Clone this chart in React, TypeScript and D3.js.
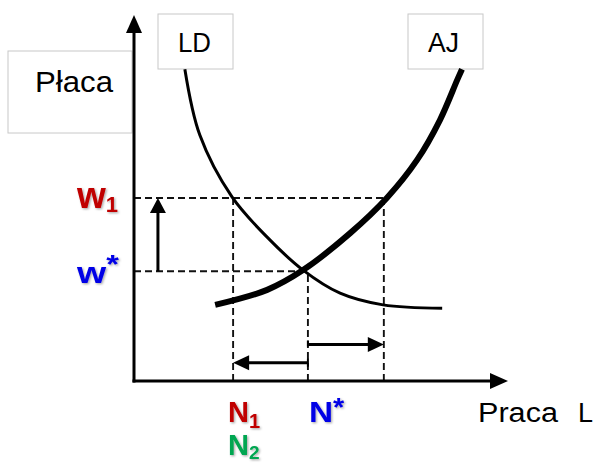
import React from "react";
import * as d3 from "d3";

// Labour demand curve (LD): [labour, wage]
const ldCurve: [number, number][] = [
  [1.36, 8.52], [1.76, 6.72], [2.62, 5.03], [3.56, 3.93], [4.52, 3.03],
  [5.51, 2.4], [6.66, 2.08], [8.24, 1.99],
];
// Labour supply curve (AJ)
const ajCurve: [number, number][] = [
  [2.17, 2.08], [3.56, 2.49], [4.52, 3.03], [5.78, 4.04], [6.76, 5.0],
  [7.57, 6.04], [8.18, 7.13], [8.64, 8.22], [8.77, 8.52],
];
const wageLevels = { w1: 5.0, wStar: 3.0 };
const labourLevels = { n1: 2.65, nStar: 4.65, n2: 6.68 };
const shiftArrows = { upX: 0.64, rightY: 1.0, leftY: 0.5 };
const axisMax = [10, 10];

export default function App() {
  const W = 599, H = 463;
  const x = d3.scaleLinear().domain([0, axisMax[0]]).range([134, 508]);
  const y = d3.scaleLinear().domain([0, axisMax[1]]).range([381, 15]);
  const line = d3.line<[number, number]>().x(d => x(d[0])).y(d => y(d[1])).curve(d3.curveCatmullRom.alpha(0.5));

  const dash = { stroke: "#111", strokeWidth: 1.9, strokeDasharray: "7,4", fill: "none" };
  const x0 = x(0), y0 = y(0);
  const head = (tx: number, ty: number, dir: "up" | "right" | "left", len: number, hw: number) => {
    if (dir === "up") return `M${tx},${ty}L${tx - hw},${ty + len}L${tx + hw},${ty + len}Z`;
    if (dir === "right") return `M${tx},${ty}L${tx - len},${ty - hw}L${tx - len},${ty + hw}Z`;
    return `M${tx},${ty}L${tx + len},${ty - hw}L${tx + len},${ty + hw}Z`;
  };
  const font = "'Liberation Sans', Arial, sans-serif";
  const red = "#c00000", blue = "#0000e6", green = "#00a651";
  const boxStroke = "#c8c8c8";

  const { w1, wStar } = wageLevels;
  const { n1, nStar, n2 } = labourLevels;

  return (
    <svg width={W} height={H} style={{ position: "absolute", left: 0, top: 0, background: "#fff" }}>
      <defs>
        <filter id="sh" x="-20%" y="-20%" width="140%" height="140%">
          <feDropShadow dx="1.2" dy="1.2" stdDeviation="0.8" floodColor="#000" floodOpacity="0.35" />
        </filter>
      </defs>
      {/* boxes */}
      <rect x={8} y={51} width={124} height={82} fill="#fff" stroke={boxStroke} strokeWidth={1} />
      <text x={35} y={92} fontFamily={font} fontSize={29} textLength={78} lengthAdjust="spacingAndGlyphs">Płaca</text>
      <rect x={158} y={14} width={75} height={55} fill="#fff" stroke={boxStroke} strokeWidth={1} />
      <text x={178} y={52} fontFamily={font} fontSize={27} textLength={33} lengthAdjust="spacingAndGlyphs">LD</text>
      <rect x={408} y={14} width={75} height={55} fill="#fff" stroke={boxStroke} strokeWidth={1} />
      <text x={428} y={52} fontFamily={font} fontSize={27} textLength={31} lengthAdjust="spacingAndGlyphs">AJ</text>

      {/* dashed guides */}
      <line x1={x0} x2={x(n2)} y1={y(w1)} y2={y(w1)} {...dash} />
      <line x1={x0} x2={x(nStar)} y1={y(wStar)} y2={y(wStar)} {...dash} />
      <line x1={x(n1)} x2={x(n1)} y1={y0} y2={y(w1)} {...dash} />
      <line x1={x(nStar)} x2={x(nStar)} y1={y0} y2={y(wStar)} {...dash} />
      <line x1={x(n2)} x2={x(n2)} y1={y0} y2={y(w1)} {...dash} />

      {/* curves */}
      <path d={line(ldCurve) ?? ""} fill="none" stroke="#000" strokeWidth={3} />
      <path d={line(ajCurve) ?? ""} fill="none" stroke="#000" strokeWidth={6} />

      {/* axes */}
      <line x1={x0} x2={x0} y1={y0 + 1.5} y2={y(axisMax[1]) + 14} stroke="#000" strokeWidth={3} />
      <path d={head(x0, y(axisMax[1]), "up", 18, 8)} fill="#000" />
      <line x1={x0 - 1.5} x2={x(axisMax[0]) - 14} y1={y0} y2={y0} stroke="#000" strokeWidth={3} />
      <path d={head(x(axisMax[0]), y0, "right", 18, 8)} fill="#000" />

      {/* shift arrows */}
      <line x1={x(shiftArrows.upX)} x2={x(shiftArrows.upX)} y1={y(wStar)} y2={y(w1) + 12} stroke="#000" strokeWidth={3} />
      <path d={head(x(shiftArrows.upX), y(w1), "up", 15, 8)} fill="#000" />
      <line x1={x(nStar)} x2={x(n2) - 12} y1={y(shiftArrows.rightY)} y2={y(shiftArrows.rightY)} stroke="#000" strokeWidth={3} />
      <path d={head(x(n2), y(shiftArrows.rightY), "right", 16, 7.5)} fill="#000" />
      <line x1={x(nStar)} x2={x(nStar)} y1={y(shiftArrows.rightY) - 4} y2={y(shiftArrows.rightY) + 2} stroke="#000" strokeWidth={2} />
      <line x1={x(nStar)} x2={x(n1) + 12} y1={y(shiftArrows.leftY)} y2={y(shiftArrows.leftY)} stroke="#000" strokeWidth={3} />
      <path d={head(x(n1), y(shiftArrows.leftY), "left", 16, 7.5)} fill="#000" />
      <line x1={x(nStar)} x2={x(nStar)} y1={y(shiftArrows.leftY) - 4} y2={y(shiftArrows.leftY) + 4} stroke="#000" strokeWidth={2} />

      {/* labels */}
      <g fontFamily={font} fontWeight="bold" filter="url(#sh)">
        <text x={77} y={208} fill={red} fontSize={37}>w<tspan fontSize={22} dy={4}>1</tspan></text>
        <text x={77} y={283} fill={blue} fontSize={30} transform="translate(77,283) scale(1.25,1) translate(-77,-283)">w<tspan fontSize={26} dy={-10}>*</tspan></text>
        <text x={228} y={422} fill={red} fontSize={29}>N<tspan fontSize={20} dy={6}>1</tspan></text>
        <text x={228} y={455} fill={green} fontSize={29}>N<tspan fontSize={19} dy={4}>2</tspan></text>
        <text x={309} y={422} fill={blue} fontSize={29} transform="translate(309,422) scale(1.15,1) translate(-309,-422)">N<tspan fontSize={25} dy={-6}>*</tspan></text>
      </g>
      <text x={478} y={422} fontFamily={font} fontSize={27} textLength={80} lengthAdjust="spacingAndGlyphs">Praca</text>
      <text x={578} y={422} fontFamily={font} fontSize={27}>L</text>
    </svg>
  );
}
